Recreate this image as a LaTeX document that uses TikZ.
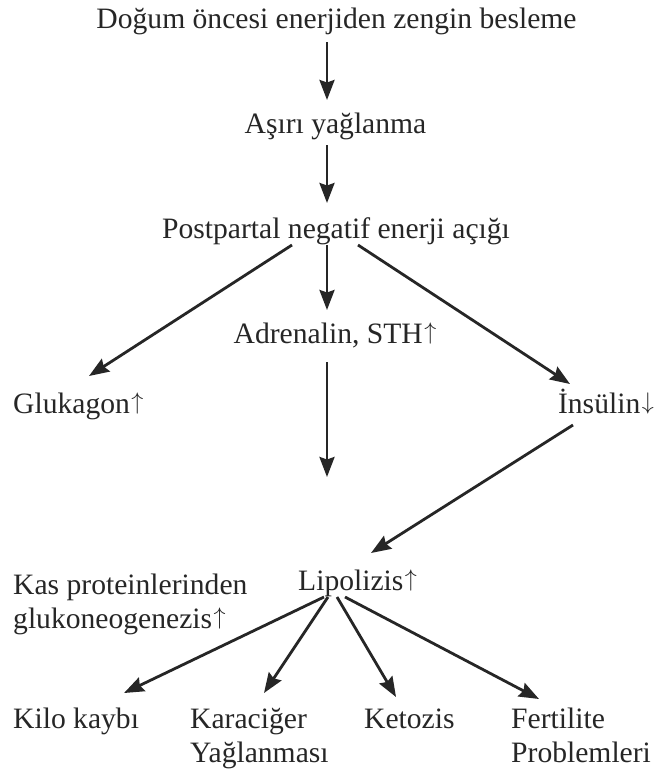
\documentclass[tikz,border=0pt]{standalone}
\usepackage{fontspec}
\usepackage{graphicx}
\setmainfont{Liberation Serif}
\usetikzlibrary{arrows.meta,calc}
\definecolor{ink}{HTML}{262626}
\newcommand{\arrglyph}[1]{\kern1.5pt\raisebox{3.5pt}{\scalebox{2.4}{\mbox{\fontsize{10}{12}\selectfont$#1$}}}}
\newcommand{\up}{\arrglyph{\uparrow}}
\newcommand{\dn}{\arrglyph{\downarrow}}
\tikzset{
  lbl/.style={inner sep=0pt, text=ink, font=\fontsize{29.6}{34}\selectfont},
  arr/.style={draw=ink, line width=2.8pt, -{Stealth[length=20pt,width=15pt,inset=2.5pt]}}
}
\begin{document}
\begin{tikzpicture}[x=1pt,y=-1pt]
\useasboundingbox (0,0) rectangle (668,771);
\node[lbl, anchor=base] (top) at (336.5,28) {Doğum öncesi enerjiden zengin besleme};
\node[lbl, anchor=base] (asiri) at (335.5,133) {Aşırı yağlanma};
\node[lbl, anchor=base] (post) at (336,238) {Postpartal negatif enerji açığı};
\node[lbl, anchor=base] (adr) at (335,343) {Adrenalin, STH\up};
\node[lbl, anchor=base west] (gluk) at (13,413) {Glukagon\up};
\node[lbl, anchor=base east] (ins) at (654,413) {İnsülin\dn};
\node[lbl, anchor=base west] (lip) at (298,590) {Lipolizis\up};
\node[lbl, anchor=base west, align=left] (kas) at (13,628) {Kas proteinlerinden\\glukoneogenezis\up};
\node[lbl, anchor=base west] (kilo) at (13,728) {Kilo kaybı};
\node[lbl, anchor=base west, align=left] (kar) at (190,762) {Karaciğer\\Yağlanması};
\node[lbl, anchor=base west] (ket) at (364,728) {Ketozis};
\node[lbl, anchor=base west, align=left] (fer) at (511,762) {Fertilite\\Problemleri};
\coordinate (adrend) at (327,477);

\draw[arr] ($(top.base)+(-9.5,14)$) -- ($(asiri.base)+(-8.5,-33)$);
\draw[arr] ($(asiri.base)+(-8.5,12)$) -- ($(post.base)+(-9,-35)$);
\draw[arr] ($(post.base)+(-44,7)$) -- ($(gluk.base west)+(76,-37)$);
\draw[arr] ($(post.base)+(-9,7)$) -- ($(adr.base)+(-8,-33)$);
\draw[arr] ($(post.base)+(22,7)$) -- ($(ins.base east)+(-84,-29)$);
\draw[arr] ($(adr.base)+(-8,19)$) -- (adrend);
\draw[arr] ($(ins.base east)+(-81,12)$) -- ($(lip.base west)+(73,-37)$);
\draw[arr] ($(lip.base west)+(26,7)$) -- ($(kilo.base west)+(111,-35)$);
\draw[arr] ($(lip.base west)+(30,7)$) -- ($(kar.base west)+(74,-69)$);
\draw[arr] ($(lip.base west)+(39,7)$) -- ($(ket.base west)+(32,-31)$);
\draw[arr] ($(lip.base west)+(47,7)$) -- ($(fer.base west)+(28,-63)$);
\end{tikzpicture}
\end{document}
